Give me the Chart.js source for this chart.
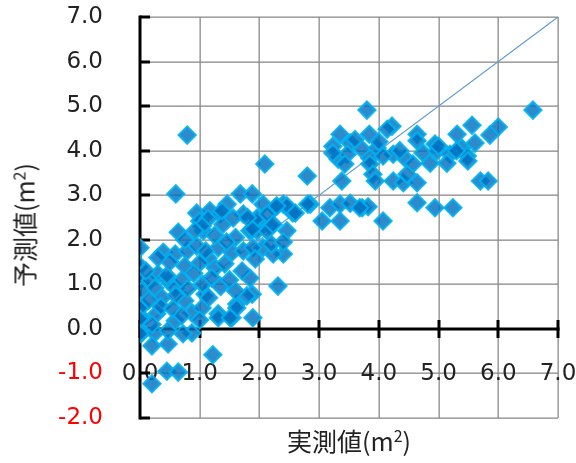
<!DOCTYPE html>
<html>
<head>
<meta charset="utf-8">
<script src="https://cdn.jsdelivr.net/npm/chart.js@4"></script>
<style>
  html, body { margin: 0; padding: 0; background: #fff; }
  #wrap { width: 576px; height: 463px; position: relative; }
  #wrap canvas { position: absolute; left: 0; top: 0; }
  .axis-title {
    position: absolute; font-family: 'Noto Sans CJK JP', 'DejaVu Sans', sans-serif;
    font-size: 25px; color: #222; white-space: nowrap; line-height: 1;
  }
  .axis-title sup { font-size: 16px; vertical-align: 9px; line-height: 0; }
  #xTitle { left: 349px; top: 440px; transform: translate(-50%, -50%); }
  #yTitle { left: 24px; top: 225px; transform: translate(-50%, -50%) rotate(-90deg); }
</style>
</head>
<body>
<div id="wrap">
  <canvas id="axes" width="576" height="463"></canvas>
  <canvas id="scatter" width="576" height="463"></canvas>
  <div class="axis-title" id="xTitle">実測値(m<sup>2</sup>)</div>
  <div class="axis-title" id="yTitle">予測値(m<sup>2</sup>)</div>
</div>
<script>
const actualValues = [
  3.8, 6.58, 4.22, 4.14, 5.56, 6.0, 5.86, 5.31, 3.35, 3.84, 4.64, 5.61, 3.23, 3.52, 3.72, 3.97, 4.24, 4.64, 4.74, 4.94,
  4.97, 5.19, 5.39, 5.48, 3.32, 3.47, 3.85, 4.44, 4.57, 4.86, 5.14, 5.49, 3.23, 3.43, 3.85, 4.07, 2.8, 3.38, 3.9, 3.94,
  4.24, 4.41, 4.47, 4.64, 5.7, 5.83, 4.64, 4.94, 5.24, 4.07, 3.18, 3.35, 3.52, 3.72, 3.82, 3.05, 3.35, 2.85, 2.46, 2.56,
  2.4, 4.0, 3.6, 4.35, 5.0, 5.3,
  2.09, 2.06, 2.26, 2.46, 2.6, 2.81, 3.68, 2.0, 2.18, 1.96, 2.06, 2.4, 2.23, 2.31, 1.84,
  0.79, 0.6, 0.64, 0.95, 1.0, 1.17, 1.34, 1.46, 1.68, 1.88, 1.73, 1.96, 2.13, 2.29, 1.06, 1.39, 1.56, 2.13, 1.84, 2.23,
  1.37, 1.14, 1.04, 1.88, 0.92,
  0, 0, 0, 0.39, 0.59, 0.79, 0.95, 1.14, 1.31, 1.54, 1.73, 1.89, 1.93, 0.75, 1.0, 1.26, 1.42, 1.71, 0.3, 0.17, 0.47,
  0.03, 0.03, 0.03, 0.03, 0.25, 0.37, 0.28, 0.25, 0.2, 0.47, 0.59, 0.75, 0.87, 0.87, 0.59, 0.47, 1.09, 1.04, 1.31, 1.54,
  1.62, 1.88, 1.89, 1.22, 0.2, 0.45, 0.64, 0.72, 1.79, 1.62, 1.31, 1.51, 0, 0, 0,
  0.45, 0.7, 0.9, 1.05, 1.2, 0.6, 0.8, 1.15, 1.35, 1.5, 1.6, 0.35, 0.55, 0.7, 1.0, 0.2, 0.15, 0.1, 0.5, 0.3,
  2.2, 2.4, 1.8, 1.25, 1.6, 0.75, 1.1, 1.45
];
const predictedValues = [
  4.91, 4.91, 4.55, 4.48, 4.57, 4.53, 4.35, 4.37, 4.37, 4.37, 4.37, 4.17, 4.1, 4.17, 4.03, 4.06, 3.92, 4.22, 3.95, 4.15,
  3.99, 3.92, 4.06, 3.88, 3.81, 3.92, 3.83, 3.83, 3.7, 3.72, 3.72, 3.77, 3.95, 3.7, 3.7, 3.88, 3.43, 3.32, 3.47, 3.32,
  3.32, 3.28, 3.47, 3.28, 3.32, 3.32, 2.83, 2.72, 2.72, 2.42, 2.72, 2.8, 2.82, 2.72, 2.74, 2.42, 2.42, 2.8, 2.2, 2.6,
  2.8, 4.2, 4.25, 4.0, 4.1, 4.0,
  3.7, 2.8, 2.72, 2.76, 2.6, 2.8, 2.72, 2.42, 2.31, 2.2, 1.82, 1.68, 1.68, 0.96, 1.14,
  4.35, 3.03, 2.17, 2.6, 2.42, 2.65, 2.58, 2.8, 3.03, 3.03, 2.58, 2.49, 2.58, 2.76, 2.2, 2.35, 2.49, 2.2, 2.2, 2.35,
  2.65, 2.47, 2.31, 2.24, 2.2,
  1.82, 1.41, 1.08, 1.72, 1.68, 1.75, 1.86, 1.59, 1.82, 1.72, 1.75, 1.82, 1.57, 1.41, 1.48, 1.37, 1.46, 1.3, 1.23, 1.08, 1.08,
  0.85, 0.52, 0.25, -0.09, 0.92, 0.7, 0.34, -0.09, -0.38, -0.34, 0.92, 0.63, 0.36, -0.09, 0.18, -0.04, 0.78, 0.47, 0.34, 0.25,
  0.56, 0.78, 0.25, -0.58, -1.23, -0.95, -0.97, -0.11, 0.74, 0.47, 0.25, 0.25, 0.47, 0.22, -0.11,
  1.2, 1.1, 1.25, 1.0, 1.15, 0.75, 0.9, 0.7, 0.95, 1.1, 0.85, 0.5, 0.45, 0.3, 0.2, 0.1, 0.65, 1.3, 1.5, 1.6,
  1.9, 1.95, 2.5, 2.1, 2.05, 2.0, 1.75, 1.95
];
// y = x reference line
const refLineX = [0, 7];
const refLineY = [0, 7];

const FONT = "'DejaVu Sans', sans-serif";

const points = actualValues.map((x, i) => ({ x: x, y: predictedValues[i] }));
const refLine = refLineX.map((x, i) => ({ x: x, y: refLineY[i] }));

// grid, axis lines and tick marks, drawn as filled rectangles from the scales' ticks
const axisLines = {
  id: 'axisLines',
  afterDraw(chart) {
    const ctx = chart.ctx;
    const xs = chart.scales.x, ys = chart.scales.y;
    const a = chart.chartArea;
    const x0 = Math.round(xs.getPixelForValue(0)), y0 = Math.round(ys.getPixelForValue(0));
    const xEnd = Math.round(xs.getPixelForValue(7));
    ctx.save();
    // grey grid behind the labels and the y = x line
    ctx.globalCompositeOperation = 'destination-over';
    ctx.fillStyle = '#8a8a8a';
    xs.ticks.forEach(t => {
      const px = Math.round(xs.getPixelForValue(t.value));
      ctx.fillRect(px - 0.5, a.top, 1.3, a.bottom - a.top);
    });
    ys.ticks.forEach(t => {
      const py = Math.round(ys.getPixelForValue(t.value));
      ctx.fillRect(a.left, py - 0.5, a.right - a.left, 1.3);
    });
    // black axes with inner / crossing ticks on top
    ctx.globalCompositeOperation = 'source-over';
    ctx.fillStyle = '#000';
    ctx.fillRect(x0 - 1.5, a.top - 1.5, 3, a.bottom - a.top + 3);
    ctx.fillRect(x0, y0 - 1.5, xEnd - x0 + 1.5, 3);
    ys.ticks.forEach(t => {
      const py = Math.round(ys.getPixelForValue(t.value));
      ctx.fillRect(x0, py - 1.5, 10, 3);
    });
    xs.ticks.forEach(t => {
      const px = Math.round(xs.getPixelForValue(t.value));
      ctx.fillRect(px - 1.5, y0 - 9, 3, 18);
    });
    ctx.restore();
  }
};

// same scales for both layers; the top layer keeps the layout but draws nothing of the axes
function makeScales(visible) {
  return {
    x: {
      type: 'linear',
      position: { y: 0 },
      min: 0, max: 7,
      afterFit(scale) { scale.paddingLeft = 0; scale.paddingRight = 0; scale.paddingTop = 0; scale.paddingBottom = 0; },
      ticks: {
        stepSize: 1,
        padding: 31,
        color: visible ? '#222' : 'transparent',
        font: { family: FONT, size: 23 },
        callback: v => v.toFixed(1)
      },
      grid: { display: false, drawTicks: false },
      border: { display: false }
    },
    y: {
      min: -2, max: 7,
      afterFit(scale) { scale.width = 140; scale.paddingTop = 0; scale.paddingBottom = 0; },
      ticks: {
        stepSize: 1,
        padding: 37,
        color: ctx => !visible ? 'transparent' : (ctx.tick.value < 0 ? '#ff0000' : '#222'),
        font: { family: FONT, size: 23 },
        callback: v => v.toFixed(1)
      },
      grid: { display: false, drawTicks: false },
      border: { display: false }
    }
  };
}

const common = {
  responsive: false,
  animation: false,
  layout: { padding: { top: 17, right: 18, bottom: 45, left: 0 } },
  plugins: { legend: { display: false }, tooltip: { enabled: false } }
};

// back layer: grid, axes, tick labels and the y = x line
new Chart(document.getElementById('axes'), {
  type: 'scatter',
  data: {
    datasets: [{
      type: 'line',
      label: 'y=x',
      data: refLine,
      borderColor: '#5b9bd5',
      borderWidth: 1.2,
      pointRadius: 0,
      fill: false
    }]
  },
  options: Object.assign({}, common, { scales: makeScales(true) }),
  plugins: [axisLines]
});

// front layer: the diamonds
new Chart(document.getElementById('scatter'), {
  type: 'scatter',
  data: {
    datasets: [{
      label: 'data',
      data: points,
      pointStyle: 'rectRot',
      pointRadius: 8.5,
      pointHoverRadius: 8.5,
      backgroundColor: 'rgba(0, 112, 192, 0.82)',
      borderColor: 'rgba(0, 176, 240, 0.9)',
      borderWidth: 2.2
    }]
  },
  options: Object.assign({}, common, { scales: makeScales(false) })
});
</script>
</body>
</html>
